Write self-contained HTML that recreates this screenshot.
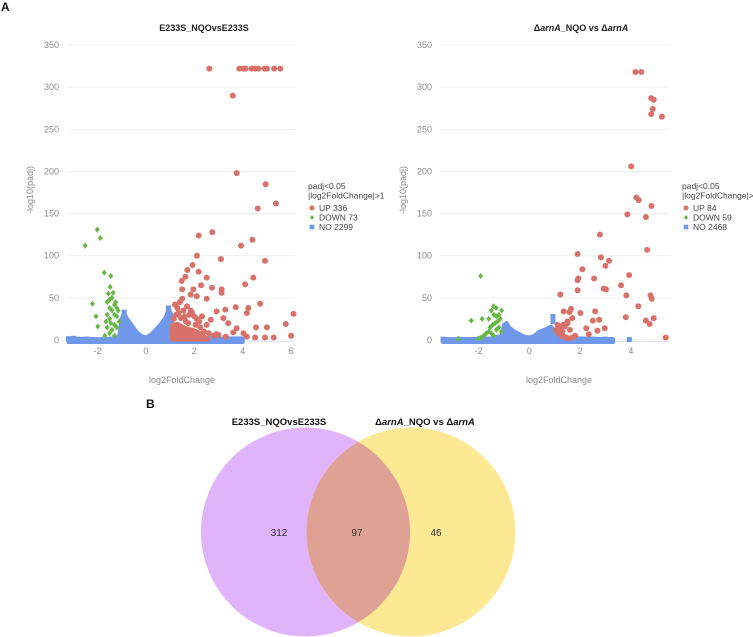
<!DOCTYPE html>
<html><head><meta charset="utf-8">
<style>
html,body{margin:0;padding:0;background:#fff;}
body{width:753px;height:637px;overflow:hidden;font-family:"Liberation Sans",sans-serif;}
svg{display:block}
</style></head>
<body>
<svg id="fig" width="753" height="637" viewBox="0 0 753 637" xmlns="http://www.w3.org/2000/svg" font-family="Liberation Sans, sans-serif">
<text x="1" y="11" font-size="12" font-weight="bold" fill="#111">A</text>
<text x="146" y="408" font-size="12" font-weight="bold" fill="#111">B</text>
<g id="left"></g>
<g id="right"></g>
<g id="venn">
  <circle cx="305.5" cy="532" r="104.5" fill="#e1b3fb"/>
  <circle cx="411" cy="532" r="104.5" fill="#fde993"/>
  <clipPath id="cl"><circle cx="305.5" cy="532" r="104.5"/></clipPath>
  <circle cx="411" cy="532" r="104.5" fill="#dfa193" clip-path="url(#cl)"/>
  <text x="279" y="536" font-size="10" text-anchor="middle" fill="#333">312</text>
  <text x="357" y="536" font-size="10" text-anchor="middle" fill="#333">97</text>
  <text x="436" y="536" font-size="10" text-anchor="middle" fill="#333">46</text>
  <text x="279" y="425" font-size="9.5" font-weight="bold" text-anchor="middle" fill="#111">E233S_NQOvsE233S</text>
  <text x="425" y="425" font-size="9.5" font-weight="bold" text-anchor="middle" fill="#111">Δ<tspan font-style="italic">arnA</tspan>_NQO vs Δ<tspan font-style="italic">arnA</tspan></text>
</g>
</svg>
<script>
// ---------- Left plot data ----------
var leftUpX=[2.62,3.86,4.03,4.12,4.37,4.51,4.65,4.9,5.0,5.3,5.55,3.59,3.75,4.95,5.37,4.62,2.74,2.18,4.4,3.93,2.11,3.1,4.92,1.93,1.71,2.18,2.51,4.44,4.1,2.73,3.13,3.13,2.28,1.63,1.48,1.5,1.96,1.85,2.51,1.5,2.1,3.71,4.23,4.72,3.28,2.92,4.17,6.1,5.78,6.0,5.28,5.0,4.55,4.92,4.51,4.17,3.61,3.4,3.2,2.68,2.51,2.32,2.92,4.03,3.75,1.2,1.3,1.4,1.55,1.7,1.8,1.9,2.0,2.1,2.2,1.25,1.45,1.65,1.85,2.05,1.15,1.35,1.6,1.75,2.25,2.4,2.6,2.8,3.0,3.3];
var leftUpY=[322,322,322,322,322,322,322,322,322,322,322,290,198,185,162,156,128,124,119,112,100,96,94,89,83,81,74,74,66,62,60,56,65,75,70,60,60,54,49,49,52,39,38,43,36,34,32,31,19,5,3,15,15,3,3,4,9,20,26,24,18,28,7,8,14,42,38,45,35,40,30,33,28,25,22,30,26,22,35,18,25,32,28,20,15,10,8,5,6,4];
var leftDownX=[-2.51,-2.01,-1.88,-1.72,-1.45,-1.48,-1.35,-2.21,-2.06,-1.99,-1.6,-1.5,-1.4,-1.3,-1.2,-1.15,-1.5,-1.4,-1.6,-1.3,-1.5,-1.2,-1.45,-1.3,-1.6,-1.4,-1.2,-1.5,-1.7,-1.3,-1.1,-1.55,-1.25,-1.65];
var leftDownY=[112,131,121,80,76,63,56,43,28,16,45,48,50,42,38,35,38,35,30,30,25,28,20,18,15,12,15,8,5,5,22,55,45,22];
var leftNoX=[-3.2,-3.0,-2.7,-2.2,-1.75,-1.3,-1.1,-1.0,-0.9,-0.8,-0.6,-0.4,-0.2,0,0.2,0.4,0.6,0.8,0.95,1.05,1.1,2,3,4];
var leftNoY=[2,2,1.5,1,1,2,5,25,32,26,18,10,5,3,6,12,18,26,37,30,3,3,2,2];
var leftUpBlockX=[1.05,1.3,1.6,2.0,2.3,2.5,2.6];
var leftUpBlockY=[18,20,15,12,8,3,1];
// ---------- Right plot data ----------
var rightUpX=[4.18,4.41,4.8,4.9,4.86,4.8,5.22,4.01,4.21,4.31,4.81,3.86,4.59,2.78,4.64,1.9,2.82,3.14,3.0,2.09,3.93,1.93,1.9,2.55,3.61,2.93,3.02,1.9,1.22,3.82,4.77,4.82,4.29,1.35,2.59,2.01,1.64,1.58,3.8,4.9,4.59,4.74,2.75,2.5,1.69,1.5,1.33,1.11,2.24,2.97,2.68,2.34,5.37,1.05,1.15,1.25,1.35,1.45,1.55,1.7,1.8,1.2,1.4,1.5,1.6,1.3];
var rightUpY=[318,318,287,285,274,268,265,206,169,166,159,149,146,125,107,102,98,94,88,84,77,73,71,73,65,61,60,59,54,53,53,49,40,34,34,32,37,33,27,26,23,19,24,23,26,22,18,18,14,14,11,7,3,12,8,6,4,3,2,3,5,14,16,20,12,10];
var rightDownX=[-1.92,-2.29,-1.86,-1.41,-1.31,-1.09,-1.5,-1.4,-1.3,-1.2,-1.35,-1.45,-1.25,-1.55,-1.6,-1.7,-1.8,-1.9,-1.5,-1.3,-1.2,-1.1,-2.0,-1.4,-1.15,-1.6,-2.8];
var rightDownY=[76,23,25,40,38,35,35,30,28,30,20,18,22,15,10,8,5,3,8,12,15,10,2,5,25,25,1];
var rightNoX=[-3.4,-2.5,-1.5,-1.1,-1.0,-0.9,-0.8,-0.6,-0.4,-0.2,0,0.2,0.4,0.6,0.85,0.95,1.05,2,3.3];
var rightNoY=[1,1,2,5,18,20,15,10,7,4,3,5,10,12,16,12,3,2,1];
var leftNoSingleX=[-3.2,-3.0,-2.5,-2.4,-2.2,-0.9,0.93,3.5];
var leftNoSingleY=[1.5,2,1,1,0.5,33,38,1];
var rightNoSingleX=[-3.4,-2.75,0.93,0.93,3.94,2.5,3.0];
var rightNoSingleY=[1,1,28,22,0.5,1,1];
var yTicks=[0,50,100,150,200,250,300,350];
var leftXTicks=[-2,0,2,4,6];
var rightXTicks=[-2,0,2,4];
var leftLegend=["UP 336","DOWN 73","NO 2299"];
var rightLegend=["UP 84","DOWN 59","NO 2468"];

var NS="http://www.w3.org/2000/svg";
var RED="#d9716b",GREEN="#67b743",BLUE="#6f97ea";
function mk(parent,tag,attrs){var e=document.createElementNS(NS,tag);for(var k in attrs)e.setAttribute(k,attrs[k]);parent.appendChild(e);return e;}

function drawPlot(g,cfg){
  var sx=function(v){return cfg.x0+(v-cfg.xmin)/(cfg.xmax-cfg.xmin)*(cfg.x1-cfg.x0);};
  var sy=function(v){return 340-v/350*295;};
  yTicks.forEach(function(t){
    var l=mk(g,'line',{x1:cfg.x0,x2:cfg.x1,y1:sy(t),y2:sy(t),stroke:'#ececec','stroke-width':0.8});
    
    
    var tx=mk(g,'text',{x:cfg.x0-8,y:sy(t)+3,'font-size':9,'text-anchor':'end',fill:'#8a8a8a'});
    tx.textContent=t;
    
    
  });
  var ax=mk(g,'line',{x1:cfg.x0,x2:cfg.x1,y1:sy(0)+1.5,y2:sy(0)+1.5,stroke:'#dfe6f5','stroke-width':1});
  
  
  cfg.xticks.forEach(function(t){
    var tx=mk(g,'text',{x:sx(t),y:354,'font-size':9,'text-anchor':'middle',fill:'#8a8a8a'});
    tx.textContent=t;
    
    
  });
  var pts=[[sx(cfg.noX[0]),sy(0)]];
  for(var i=0;i<cfg.noX.length;i++)pts.push([sx(cfg.noX[i]),sy(cfg.noY[i])]);
  pts.push([sx(cfg.noX[cfg.noX.length-1]),sy(0)+2]);pts.push([sx(cfg.noX[0]),sy(0)+2]);
  var a=mk(g,'polygon',{points:pts.map(function(p){return p.join(',');}).join(' '),fill:BLUE,stroke:BLUE,'stroke-width':4,'stroke-linejoin':'round'});
  
  
  for(i=0;i<cfg.nsX.length;i++){
    var s=mk(g,'rect',{x:sx(cfg.nsX[i])-2.5,y:sy(cfg.nsY[i])-2.5,width:5,height:5,fill:BLUE});
    
    
  }
  if(cfg.blockX){
    var bp=[[sx(cfg.blockX[0]),sy(0)]];
    for(i=0;i<cfg.blockX.length;i++)bp.push([sx(cfg.blockX[i]),sy(cfg.blockY[i])]);
    bp.push([sx(cfg.blockX[cfg.blockX.length-1]),sy(0)]);
    var b=mk(g,'polygon',{points:bp.map(function(p){return p.join(',');}).join(' '),fill:RED,stroke:RED,'stroke-width':3,'stroke-linejoin':'round'});
    
    
  }
  for(i=0;i<cfg.upX.length;i++){
    var c=mk(g,'circle',{cx:sx(cfg.upX[i]),cy:sy(cfg.upY[i]),r:3,fill:RED});
    
    
  }
  for(i=0;i<cfg.dnX.length;i++){
    var x=sx(cfg.dnX[i]),y=sy(cfg.dnY[i]);
    var d=mk(g,'polygon',{points:(x)+','+(y-3)+' '+(x+2.5)+','+y+' '+x+','+(y+3)+' '+(x-2.5)+','+y,fill:GREEN});
    
    
  }
  var t=mk(g,'text',{x:cfg.titleX,y:31,'font-size':9,'font-weight':'bold','text-anchor':'middle',fill:'#222'});
  t.innerHTML=cfg.title;
  
  
  var xl=mk(g,'text',{x:cfg.xlabX,y:383,'font-size':9,fill:'#8a8a8a'});
  xl.textContent='log2FoldChange';
  
  
  var yl=mk(g,'text',{x:0,y:0,'font-size':9,'text-anchor':'middle',fill:'#8a8a8a',transform:'translate('+cfg.ylabX+',190) rotate(-90)'});
  yl.textContent='-log10(padj)';
  
  
  var lx=cfg.legX;
  var l1=mk(g,'text',{x:lx,y:189,'font-size':8.5,fill:'#444'});l1.textContent='padj<0.05';
  
  
  var l2=mk(g,'text',{x:lx,y:198.5,'font-size':8.5,fill:'#444'});l2.textContent='|log2FoldChange|>1';
  
  
  var cols=[RED,GREEN,BLUE];
  cfg.legend.forEach(function(lab,k){
    var yy=208+k*9.5;
    var m;
    if(k==0)m=mk(g,'circle',{cx:lx+4,cy:yy,r:2.5,fill:cols[k]});
    else if(k==1)m=mk(g,'polygon',{points:(lx+4)+','+(yy-2.5)+' '+(lx+6)+','+yy+' '+(lx+4)+','+(yy+2.5)+' '+(lx+2)+','+yy,fill:cols[k]});
    else m=mk(g,'rect',{x:lx+1.7,y:yy-2.3,width:4.6,height:4.6,fill:cols[k]});
    
    
    var tt=mk(g,'text',{x:lx+11,y:yy+3.2,'font-size':8.5,fill:'#444'});
    tt.textContent=lab;
    
    
  });
}
var ti=String.fromCharCode(916);
drawPlot(document.getElementById('left'),{x0:67,x1:295,xmin:-3.26,xmax:6.16,xticks:leftXTicks,upX:leftUpX,upY:leftUpY,dnX:leftDownX,dnY:leftDownY,noX:leftNoX,noY:leftNoY,nsX:leftNoSingleX,nsY:leftNoSingleY,blockX:leftUpBlockX,blockY:leftUpBlockY,title:'E233S_NQOvsE233S',titleX:204,xlabX:149,ylabX:33,legX:308,legend:leftLegend});
drawPlot(document.getElementById('right'),{x0:440,x1:670,xmin:-3.52,xmax:5.54,xticks:rightXTicks,upX:rightUpX,upY:rightUpY,dnX:rightDownX,dnY:rightDownY,noX:rightNoX,noY:rightNoY,nsX:rightNoSingleX,nsY:rightNoSingleY,blockX:null,title:ti+'<tspan font-style="italic">arnA</tspan>_NQO vs '+ti+'<tspan font-style="italic">arnA</tspan>',titleX:581,xlabX:526,ylabX:406,legX:682,legend:rightLegend});
</script>
</body></html>
